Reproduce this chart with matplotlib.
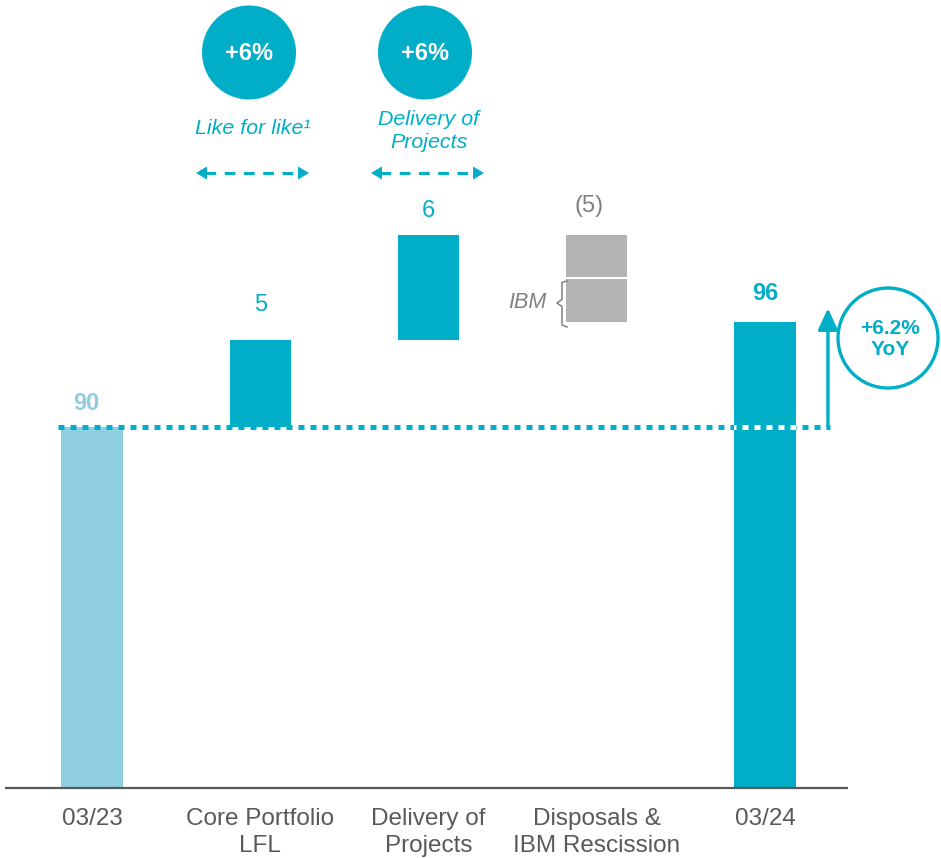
import numpy as np
import matplotlib
matplotlib.use("Agg")
import matplotlib.pyplot as plt
from matplotlib.patches import Circle, Polygon

plt.rcParams["font.family"] = ["Liberation Sans", "DejaVu Sans"]

# ---- data ---------------------------------------------------------------
categories = ["03/23", "Core Portfolio\nLFL", "Delivery of\nProjects",
              "Disposals &\nIBM Rescission", "03/24"]
start_value = 90
lfl_change = 5
projects_change = 6
disposals_parts = [-2.5, -2.5]          # other disposals, IBM rescission
end_value = 96
value_labels = ["90", "5", "6", "(5)", "96"]
growth_badges = ["+6%", "+6%"]
badge_captions = ["Like for like\u00b9", "Delivery of\nProjects"]
yoy_text = "+6.2%\nYoY"

# ---- colours ------------------------------------------------------------
TEAL = "#00AEC7"
LIGHT = "#8FCEE0"
GREY = "#B3B3B3"
TEXT = "#595959"

# ---- broken value axis: totals in proportion, steps magnified ------------
BREAK = start_value
K = 4.37


def fwd(y):
    y = np.asarray(y, dtype=float)
    return np.where(y <= BREAK, y, BREAK + (y - BREAK) * K)


def inv(t):
    t = np.asarray(t, dtype=float)
    return np.where(t <= BREAK, t, BREAK + (t - BREAK) / K)


fig = plt.figure(figsize=(9.41, 8.58), dpi=100)
ax = fig.add_axes([0, 0, 1, 1])
ax.set_yscale("function", functions=(fwd, inv))
ax.set_xlim(-0.547, 5.046)
ax.set_ylim(-17.45, 114.4)
ax.axis("off")

x = np.arange(len(categories))
w = 0.363

# running totals for the waterfall
lfl_bottom = start_value
proj_bottom = lfl_bottom + lfl_change
disp_top = proj_bottom + projects_change
split = disp_top + disposals_parts[0]

ax.bar(x[0], start_value, width=w, color=LIGHT, zorder=2)
ax.bar(x[1], lfl_change, bottom=lfl_bottom, width=w, color=TEAL, zorder=2)
ax.bar(x[2], projects_change, bottom=proj_bottom, width=w, color=TEAL, zorder=2)
ax.bar(x[3], disposals_parts[0], bottom=disp_top, width=w, color=GREY, zorder=2)
ax.bar(x[3], disposals_parts[1], bottom=split, width=w, color=GREY, zorder=2)
ax.plot([x[3] - w / 2, x[3] + w / 2], [split, split], color="white", lw=1.5, zorder=3)
end_bar = ax.bar(x[4], end_value, width=w, color=TEAL, zorder=2)[0]

# baseline
ax.plot([-0.517, 4.493], [0, 0], color=TEXT, lw=1.6, zorder=4, solid_capstyle="butt")

# dotted reference line at the starting level
ref_x = [-0.202, 4.386]
dots = dict(lw=3.6, linestyle=(0, (1.2, 1.2)), dash_capstyle="butt")
ax.plot(ref_x, [start_value] * 2, color=TEAL, zorder=5, **dots)
white = ax.plot(ref_x, [start_value] * 2, color="white", zorder=6, **dots)[0]
white.set_clip_path(end_bar)

# YoY arrow
ax.annotate("", xy=(4.374, end_value + 0.8), xytext=(4.374, start_value),
            arrowprops=dict(arrowstyle="-|>,head_width=0.3,head_length=0.65",
                            mutation_scale=20, lw=2.4, color=TEAL,
                            shrinkA=0, shrinkB=0), zorder=6)

# category labels
for xi, lab in zip(x, categories):
    ax.annotate(lab, xy=(xi, 0), xytext=(0, -20), textcoords="offset pixels",
                ha="center", va="top", fontsize=17.5, color=TEXT, linespacing=1.27)

# value labels
tops = [start_value, proj_bottom, disp_top, disp_top, end_value]
label_style = [
    dict(color=LIGHT, fontweight="bold", dx=-6, dy=24),
    dict(color=TEAL, fontweight="normal", dx=0, dy=35),
    dict(color=TEAL, fontweight="normal", dx=0, dy=24),
    dict(color="#808080", fontweight="normal", dx=-8, dy=29),
    dict(color=TEAL, fontweight="bold", dx=0, dy=29),
]
for xi, top, lab, st in zip(x, tops, value_labels, label_style):
    ax.annotate(lab, xy=(xi, top), xytext=(st["dx"], st["dy"]),
                textcoords="offset pixels", ha="center", va="center",
                fontsize=17, color=st["color"], fontweight=st["fontweight"])

# ---- overlay in pixel space for badges and annotations -------------------
ov = fig.add_axes([0, 0, 1, 1], facecolor="none")
ov.set_xlim(0, 941)
ov.set_ylim(858, 0)
ov.axis("off")

for cx, badge, cap, cap_y in zip([249, 425], growth_badges, badge_captions, [129, 131]):
    ov.add_patch(Circle((cx, 52.5), 47, color=TEAL, lw=0))
    ov.text(cx, 54, badge, ha="center", va="center", fontsize=17,
            fontweight="bold", color="white")
    ov.text(cx + 4, cap_y, cap, ha="center", va="center", fontsize=15.4,
            style="italic", color=TEAL, linespacing=1.27)

# dashed double-headed arrows under the captions
for x0, x1 in [(196, 309), (371, 484)]:
    ov.plot([x0 + 9, x1 - 9], [173, 173], color=TEAL, lw=2.2,
            linestyle=(0, (3.5, 2.8)))
    ov.add_patch(Polygon([[x0, 173], [x0 + 11, 166.5], [x0 + 11, 179.5]],
                         closed=True, color=TEAL, lw=0))
    ov.add_patch(Polygon([[x1, 173], [x1 - 11, 166.5], [x1 - 11, 179.5]],
                         closed=True, color=TEAL, lw=0))

# IBM brace
brace = [(567, 281), (562, 282.5), (562, 299.5), (557, 303), (562, 306.5),
         (562, 325), (567, 327)]
bx, by = zip(*brace)
ov.plot(bx, by, color="#808080", lw=1.1)
ov.text(527, 303, "IBM", ha="center", va="center", fontsize=15.5,
        style="italic", color="#808080")

# YoY badge
ov.add_patch(Circle((888, 338), 50, fill=False, ec=TEAL, lw=2.4))
ov.text(890, 339, yoy_text, ha="center", va="center", fontsize=15,
        fontweight="bold", color=TEAL, linespacing=1.15)

fig.savefig("out.png", dpi=100)
